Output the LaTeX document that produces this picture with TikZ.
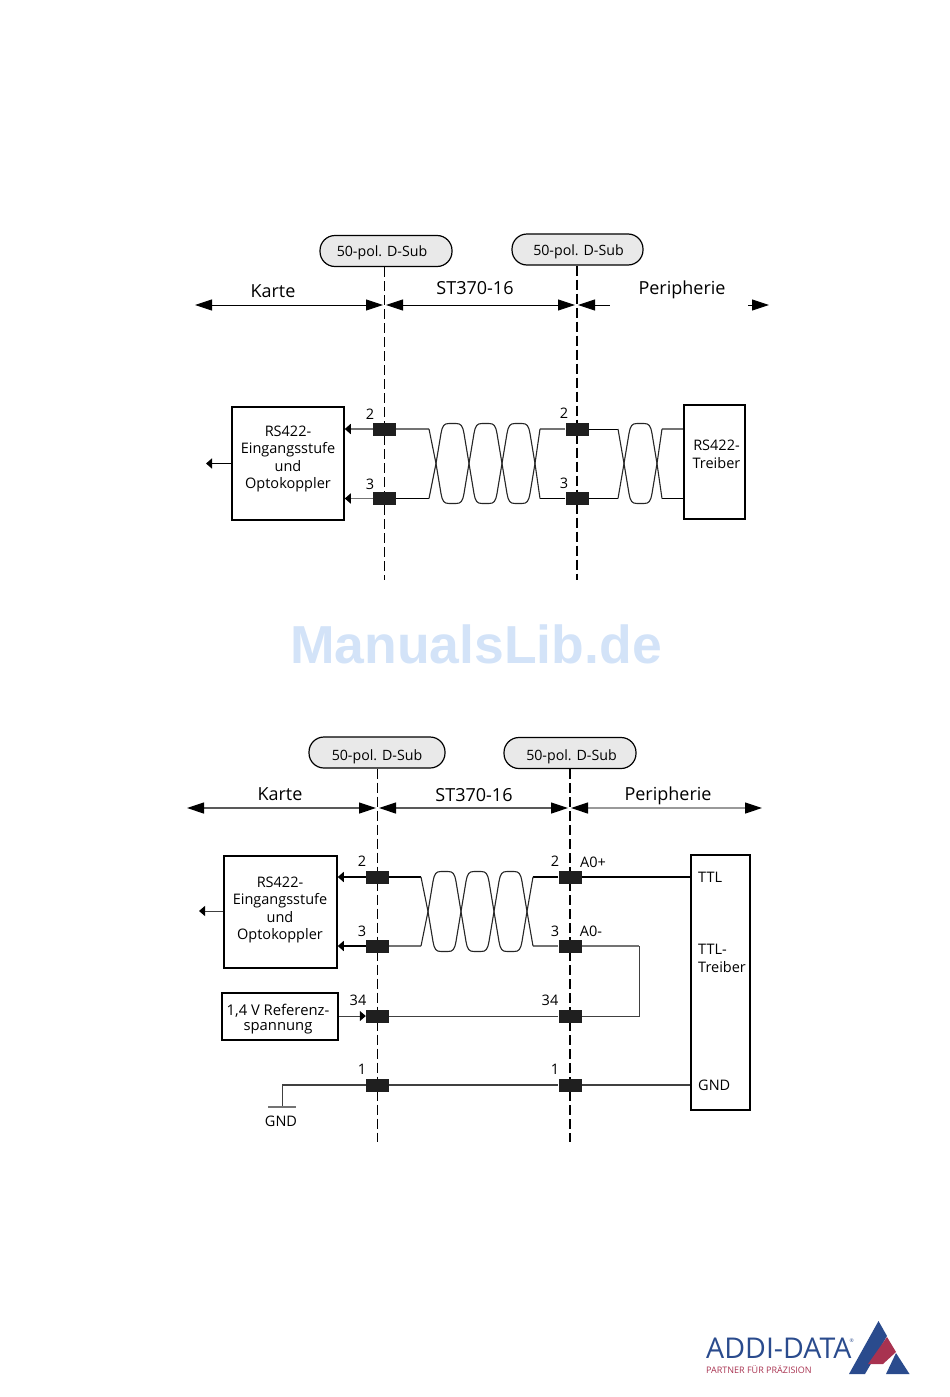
\documentclass[tikz,border=0pt]{standalone}
\usepackage{fontspec}
\setmainfont{Open Sans}
\newfontfamily\markfont{Liberation Sans}
\usetikzlibrary{arrows.meta, positioning}
\definecolor{pillgray}{HTML}{E9E9E9}
\definecolor{logoblue}{HTML}{2A4B8D}
\definecolor{logored}{HTML}{A83250}
\definecolor{markblue}{HTML}{D3E3F8}
\newcommand{\twistlobe}[2]{%
    \draw [twist] (#1, #2) -- (#1+5, #2-30) .. controls (#1+6.5, #2-38) and (#1+8, #2-40) .. (#1+13, #2-40) -- (#1+20, #2-40) .. controls (#1+25, #2-40) and (#1+26.5, #2-38) .. (#1+28, #2-30) -- (#1+33, #2);
    \draw [twist] (#1, #2) -- (#1+5, #2+30) .. controls (#1+6.5, #2+38) and (#1+8, #2+40) .. (#1+13, #2+40) -- (#1+20, #2+40) .. controls (#1+25, #2+40) and (#1+26.5, #2+38) .. (#1+28, #2+30) -- (#1+33, #2);
}
\begin{document}
\begin{tikzpicture}[x=1pt, y=-1pt,
    every node/.style={font=\fontsize{14.5}{17.4}\selectfont, inner sep=0pt, align=center},
    pill/.style={draw, line width=1.2pt, fill=pillgray, rounded corners=15pt, minimum height=31pt, text depth=3pt, font=\fontsize{14.2}{17}\selectfont},
    block/.style={draw, line width=1.5pt},
    pin/.style={fill=black!88, minimum width=23pt, minimum height=13pt},
    big/.style={font=\fontsize{18}{20}\selectfont},
    span/.style={line width=0.9pt, {Triangle[length=17pt,width=11pt,color=black]}-{Triangle[length=17pt,width=11pt,color=black]}},
    spanl/.style={line width=0.9pt, {Triangle[length=17pt,width=11pt]}-},
    spanr/.style={line width=0.9pt, -{Triangle[length=17pt,width=11pt]}},
    boxtip/.style={{Triangle[length=6pt,width=10pt,color=black]}-},
    pintip/.style={-{Triangle[length=6pt,width=10pt,color=black]}},
    wire/.style={line width=1.6pt},
    wirebold/.style={line width=1.8pt},
    wiregray/.style={line width=1.8pt, black!55},
    wiredark/.style={line width=1.8pt, black!75},
    wirethin/.style={line width=1pt, black!75},
    twist/.style={line width=1.1pt, black!85},
    cutline/.style={line width=0.9pt, dash pattern=on 10pt off 4pt},
    cutbold/.style={line width=1.5pt, dash pattern=on 10pt off 4pt}]
    \useasboundingbox (0, 0) rectangle (950, 1397);
    % upper drawing
    \node[pill, minimum width=132pt, text height=13pt] at (386, 251) (sub1) {50-pol. D-Sub\hspace{8pt}};
    \node[pill, minimum width=131pt, text height=15pt] at (577.5, 249.5) (sub2) {\hspace{2pt}50-pol. D-Sub};
    \node[big] at (273, 291) (karte1) {Karte};
    \node[big] at (475, 288) (st1) {ST370-16};
    \node[big] at (682, 289.5) (peri1) {Peripherie};

    \coordinate (a1) at (195, 305);
    \coordinate (a2) at (383, 305);
    \coordinate (a3) at (386, 305);
    \coordinate (a4) at (575, 305);
    \coordinate (a5) at (578, 305);
    \coordinate (a6) at (610, 305);
    \coordinate (a7) at (748, 305);
    \coordinate (a8) at (769, 305);
    \draw [span] (a1) -- (a2);
    \draw [span] (a3) -- (a4);
    \draw [spanl] (a5) -- (a6);
    \draw [spanr] (a7) -- (a8);

    \coordinate (cut1) at (384.5, 580);
    \coordinate (cut2) at (577, 580);
    \draw [cutline] (sub1.south -| cut1) -- (cut1);
    \draw [cutbold] (sub2.south -| cut2) -- (cut2);

    \node[block, minimum width=112pt, minimum height=113pt] at (288, 463.5) (opto1) {};
    \node at (288, 459) (opto1text) {RS422-\\Eingangsstufe\\und\\Optokoppler};
    \node[block, minimum width=61pt, minimum height=114pt] at (714.5, 462) (drv1) {};
    \node at (716.5, 454.5) (drv1text) {RS422-\\Treiber};
    \coordinate (out1) at (206, 463.5);
    \draw [wire, pintip] (opto1.west) -- (out1);

    \node[pin] at (384.5, 429) (p12) {};
    \node[pin] at (384.5, 498.5) (p13) {};
    \node[pin] at (577, 429) (q12) {};
    \node[pin] at (577, 498.5) (q13) {};
    \node at (370, 414) (n12) {2};
    \node at (370, 484) (n13) {3};
    \node at (564, 413) (m12) {2};
    \node at (564, 483) (m13) {3};

    \coordinate (t11) at (429, 429);
    \coordinate (t12) at (429, 498.5);
    \coordinate (t13) at (540, 429);
    \coordinate (t14) at (540, 498.5);
    \coordinate (t15) at (618, 429);
    \coordinate (t16) at (618, 498.5);
    \coordinate (t17) at (662, 429);
    \coordinate (t18) at (662, 498.5);
    \draw [wiregray, boxtip] (p12 -| opto1.east) -- (p12);
    \draw [wiregray, boxtip] (p13 -| opto1.east) -- (p13);
    \draw [wiregray] (p12) -- (t11);
    \draw [wire] (p13) -- (t12);
    \draw [wiregray] (q12) -- (t13);
    \draw [wire] (q13) -- (t14);
    \draw [wirethin, black] (q12) -- (t15);
    \draw [wire] (q13) -- (t16);
    \draw [wiregray] (t17) -- (t17 -| drv1.west);
    \draw [wire] (t18) -- (t18 -| drv1.west);
    \foreach \cx in {436, 469, 502} {\twistlobe{\cx}{463.5}}
    \draw [twist] (t11) -- (436, 463.5) -- (t12);
    \draw [twist] (t13) -- (535, 463.5) -- (t14);
    \twistlobe{624}{463.5}
    \draw [twist] (t15) -- (624, 463.5) -- (t16);
    \draw [twist] (t17) -- (657, 463.5) -- (t18);

    % lower drawing
    \node[pill, minimum width=136pt, text height=18pt] at (377, 752.5) (sub3) {50-pol. D-Sub};
    \node[pill, minimum width=132pt, text height=17pt] at (570, 753) (sub4) {\hspace{3pt}50-pol. D-Sub};
    \node[big] at (280, 794) (karte2) {Karte};
    \node[big] at (474, 795) (st2) {ST370-16};
    \node[big] at (668, 795.5) (peri2) {Peripherie};

    \coordinate (b1) at (187, 808);
    \coordinate (b2) at (376, 808);
    \coordinate (b3) at (379, 808);
    \coordinate (b4) at (568, 808);
    \coordinate (b5) at (571, 808);
    \coordinate (b6) at (762, 808);
    \draw [span, black!65, line width=1.2pt] (b1) -- (b2);
    \draw [span, black!65, line width=1.2pt] (b3) -- (b4);
    \draw [span, black!40, line width=1.2pt] (b5) -- (b6);

    \coordinate (cut3) at (377.5, 1142);
    \coordinate (cut4) at (570, 1142);
    \draw [cutline] (sub3.south -| cut3) -- (cut3);
    \draw [cutbold] (sub4.south -| cut4) -- (cut4);

    \node[block, minimum width=113pt, minimum height=112pt] at (280.5, 912) (opto2) {};
    \node at (280, 910) (opto2text) {RS422-\\Eingangsstufe\\und\\Optokoppler};
    \node[block, minimum width=116pt, minimum height=47pt] at (280, 1016.5) (ref2) {};
    \node[font=\fontsize{14.8}{15.2}\selectfont] at (278, 1019) (ref2text) {1,4 V Referenz-\\spannung};
    \node[block, minimum width=59pt, minimum height=255pt] at (720.5, 982.5) (ttl2) {};
    \coordinate (out2) at (199, 911);
    \draw [wirethin, pintip] (opto2.west |- out2) -- (out2);

    \node[pin] at (377.5, 877) (p22) {};
    \node[pin] at (377.5, 946) (p23) {};
    \node[pin] at (377.5, 1016) (p234) {};
    \node[pin] at (377.5, 1085) (p21) {};
    \node[pin] at (570, 877) (q22) {};
    \node[pin] at (570, 946) (q23) {};
    \node[pin] at (570, 1016) (q234) {};
    \node[pin] at (570, 1085) (q21) {};
    \node at (362, 861) (n22) {2};
    \node at (362, 931) (n23) {3};
    \node at (358, 1000) (n234) {34};
    \node at (362, 1069) (n21) {1};
    \node at (555, 861) (m22) {2};
    \node at (555, 931) (m23) {3};
    \node at (550, 1000) (m234) {34};
    \node at (555, 1069) (m21) {1};
    \node at (593, 862) (ap) {A0+};
    \node at (591, 931) (am) {A0-};
    \node[anchor=west] at (698, 877) (ttl) {TTL};
    \node[anchor=west, align=left] at (698, 958.5) (ttltext) {TTL-\\Treiber};
    \node[anchor=west] at (698, 1085) (gndr) {GND};
    \node at (281, 1121) (gndl) {GND};

    \coordinate (t21) at (421, 877);
    \coordinate (t22) at (421, 946);
    \coordinate (t23) at (533, 877);
    \coordinate (t24) at (533, 946);
    \coordinate (e1) at (639, 946);
    \coordinate (e2) at (639, 1016);
    \coordinate (g1) at (282, 1085);
    \coordinate (g2) at (282, 1107);
    \coordinate (g3) at (268, 1107);
    \coordinate (g4) at (296, 1107);
    \draw [wirebold, boxtip] (p22 -| opto2.east) -- (p22);
    \draw [wirebold, boxtip] (p23 -| opto2.east) -- (p23);
    \draw [wirethin, pintip] (ref2.east |- p234) -- (p234.west);
    \draw [wirebold] (p22) -- (t21);
    \draw [wiregray] (p23) -- (t22);
    \draw [wirebold] (q22) -- (t23);
    \draw [wiregray] (q23) -- (t24);
    \draw [wirebold] (q22) -- (q22 -| ttl2.west);
    \draw [wiregray] (q23) -- (e1);
    \draw [wirethin] (e1) -- (e2) -- (q234);
    \draw [wirethin] (p234) -- (q234);
    \draw [wiredark] (p21) -- (q21);
    \draw [wiredark] (q21) -- (q21 -| ttl2.west);
    \draw [wiredark] (p21) -- (g1);
    \draw [wirethin] (g1) -- (g2);
    \draw [line width=1.4pt, black!55] (g3) -- (g4);
    \foreach \cx in {428, 461, 494} {\twistlobe{\cx}{911.5}}
    \draw [twist] (t21) -- (428, 911.5) -- (t22);
    \draw [twist] (t23) -- (527, 911.5) -- (t24);

    % watermark
    \node[font=\markfont\bfseries\fontsize{53.5}{60}\selectfont, text=markblue] at (476, 644) (mark) {ManualsLib.de};

    % logo
    \fill [logoblue] (878.5, 1321) -- (887, 1336) -- (865, 1374) -- (849, 1374) -- cycle;
    \fill [logored] (887, 1337) -- (896, 1352) -- (883, 1364) -- (868, 1364) -- cycle;
    \fill [logoblue] (896, 1353) -- (909.5, 1374) -- (886, 1374) -- cycle;
    \node[anchor=base west, font=\fontsize{28.6}{32}\selectfont, text=logoblue] at (706, 1358) (logo) {ADDI-DATA};
    \node[anchor=base west, font=\fontsize{5}{6}\selectfont, text=logoblue] at (849.5, 1342) (logoreg) {®};
    \node[anchor=base west, font=\fontsize{9}{10}\selectfont, text=logored] at (706, 1373.5) (claim) {PARTNER FÜR PRÄZISION};
\end{tikzpicture}
\end{document}
